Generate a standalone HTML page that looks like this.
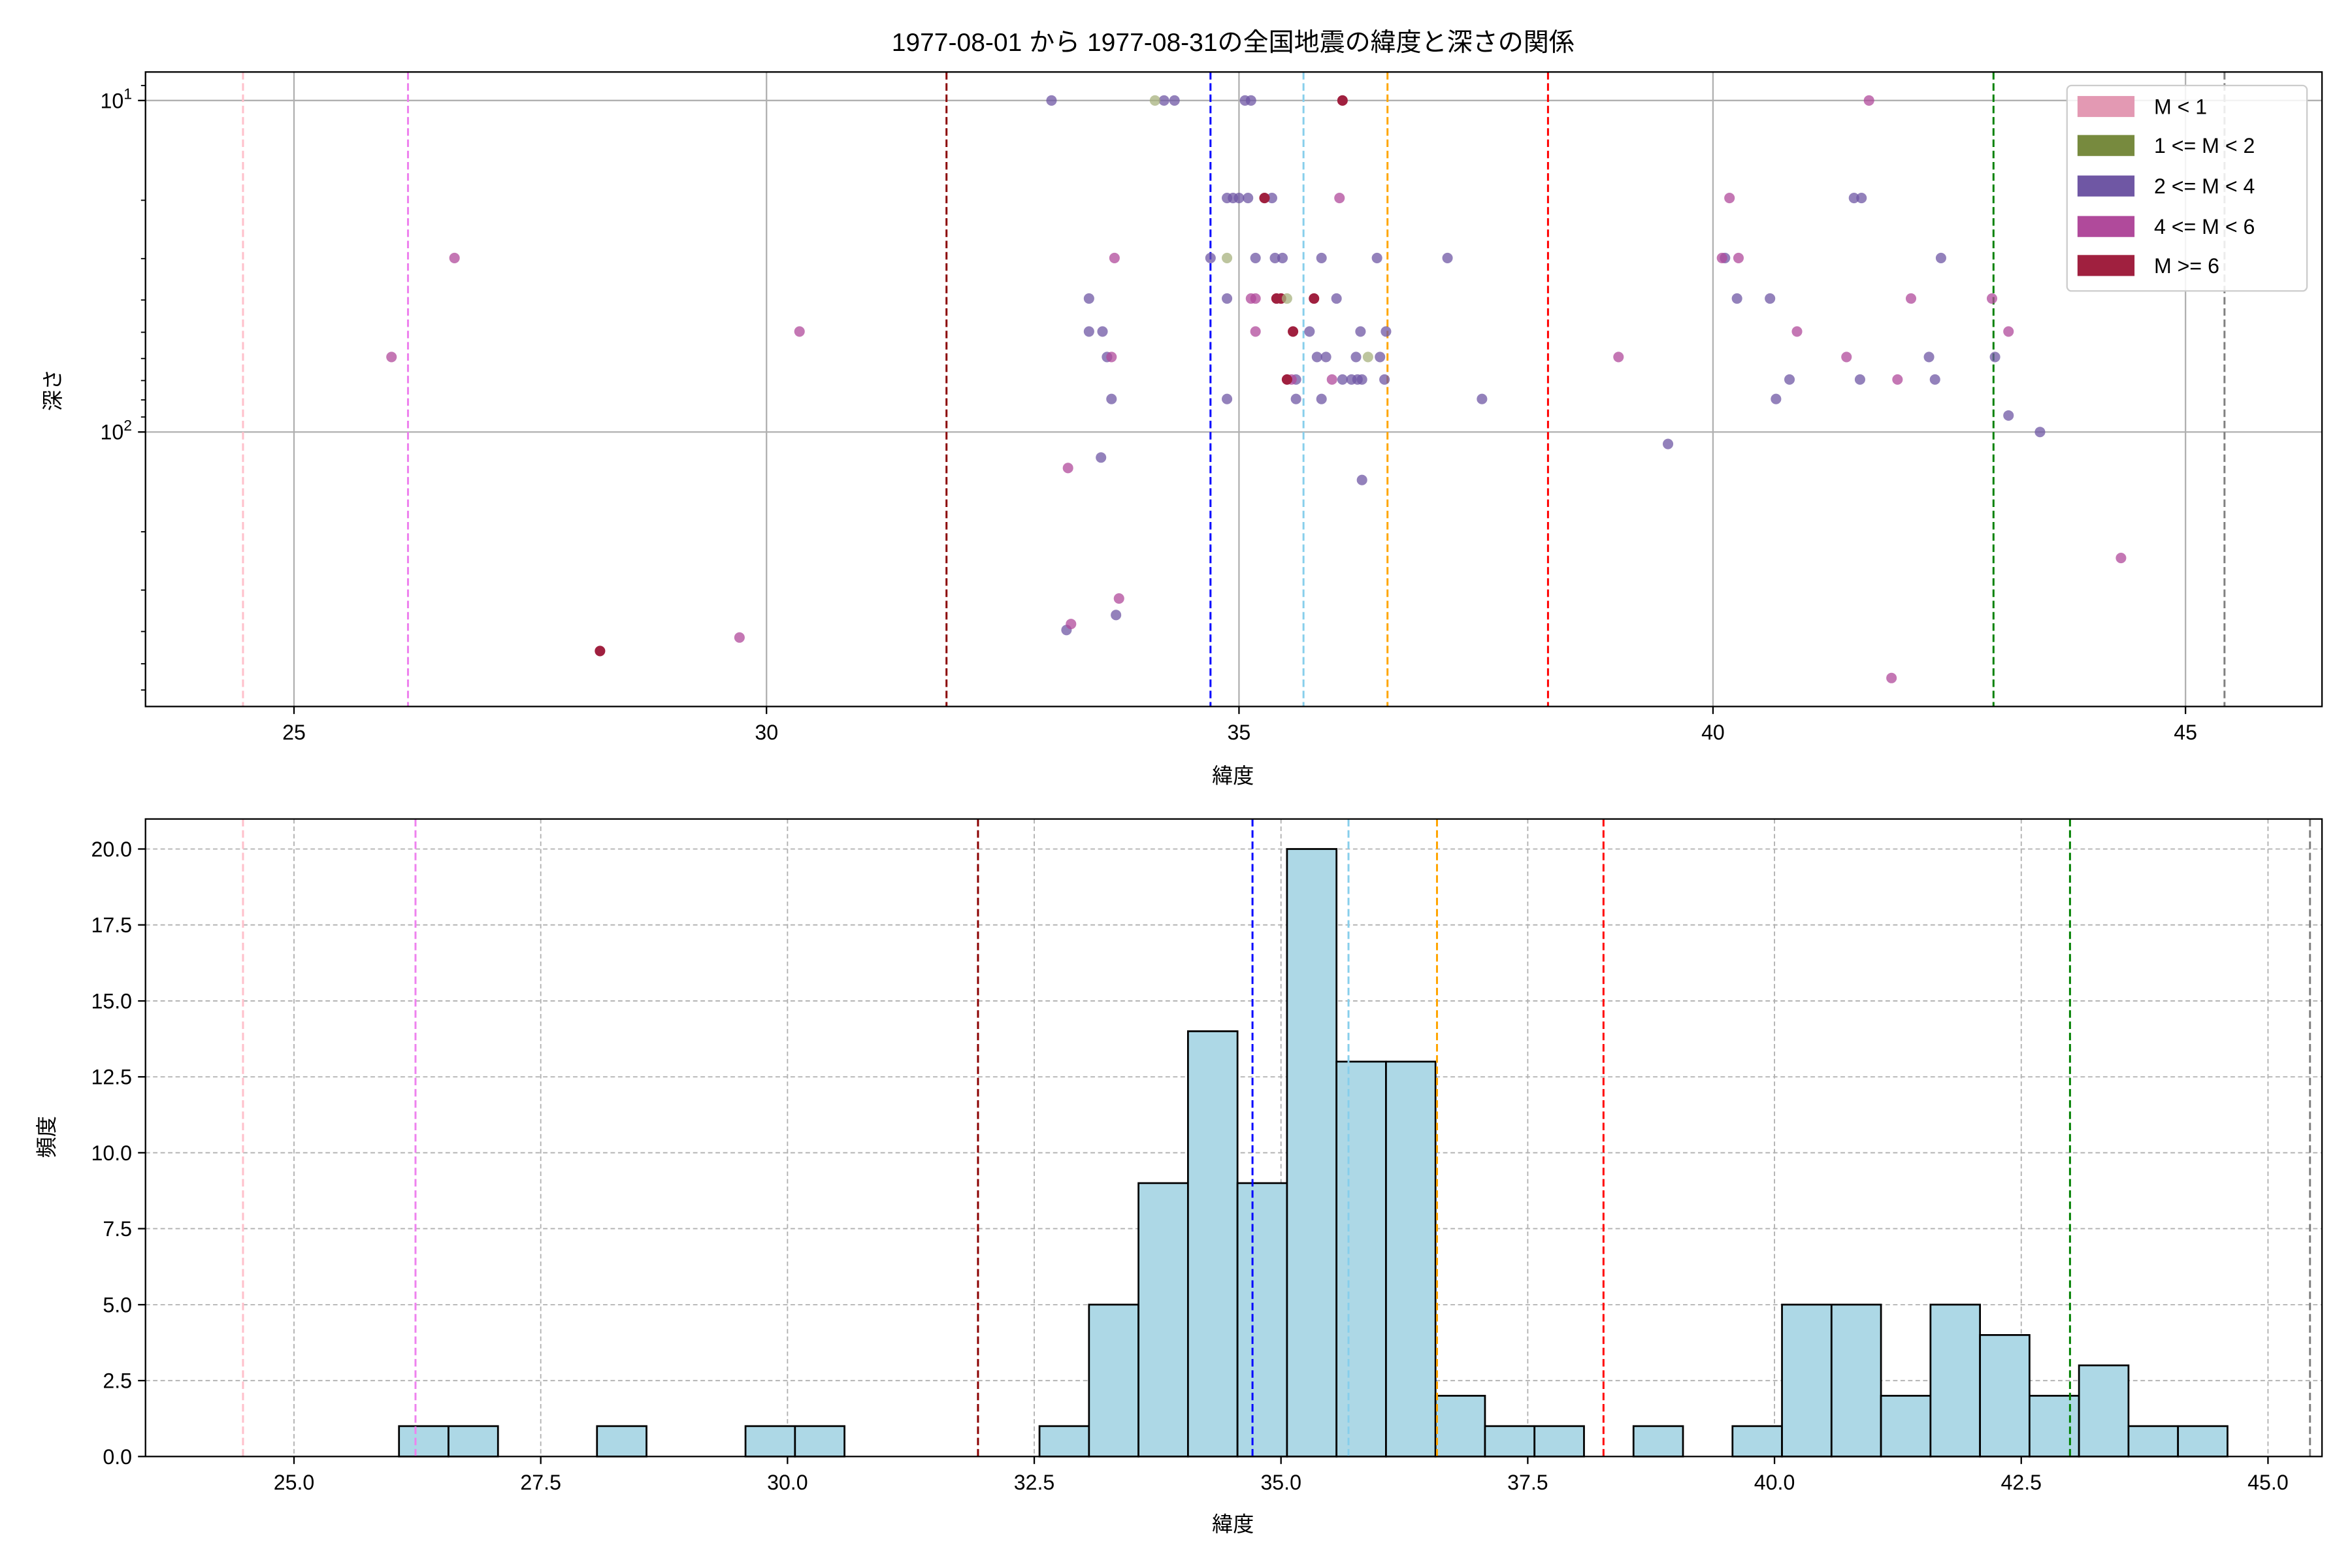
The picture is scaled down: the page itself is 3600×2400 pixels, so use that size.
<!DOCTYPE html>
<html><head><meta charset="utf-8"><style>
html,body{margin:0;padding:0;background:#fff}
svg{display:block}
text{font-family:"Liberation Sans","Noto Sans CJK JP",sans-serif;fill:#000}
</style></head><body>
<svg width="3600" height="2400" viewBox="0 0 1568 1045.33" xmlns="http://www.w3.org/2000/svg">
<rect width="1568" height="1046" fill="#fff"/>
<text x="822" y="34" font-size="17" text-anchor="middle">1977-08-01 から 1977-08-31の全国地震の緯度と深さの関係</text>
<!-- TOP -->
<g stroke="#b0b0b0" stroke-width="1">
<line x1="196" y1="48" x2="196" y2="471"/><line x1="511" y1="48" x2="511" y2="471"/><line x1="826" y1="48" x2="826" y2="471"/><line x1="1142" y1="48" x2="1142" y2="471"/><line x1="1457" y1="48" x2="1457" y2="471"/>
<line x1="97" y1="67" x2="1548" y2="67"/><line x1="97" y1="288" x2="1548" y2="288"/>
</g>
<g stroke-width="1.3" stroke-dasharray="5,2.5">
<line x1="162" y1="48" x2="162" y2="471" stroke="pink"/>
<line x1="272" y1="48" x2="272" y2="471" stroke="violet"/>
<line x1="631" y1="48" x2="631" y2="471" stroke="darkred"/>
<line x1="807" y1="48" x2="807" y2="471" stroke="blue"/>
<line x1="869" y1="48" x2="869" y2="471" stroke="skyblue"/>
<line x1="925" y1="48" x2="925" y2="471" stroke="orange"/>
<line x1="1032" y1="48" x2="1032" y2="471" stroke="red"/>
<line x1="1329" y1="48" x2="1329" y2="471" stroke="green"/>
<line x1="1483" y1="48" x2="1483" y2="471" stroke="gray"/>
</g>
<g fill-opacity="0.75">
<g fill="#6f57a4">
<circle cx="701" cy="67" r="3.5"/><circle cx="776" cy="67" r="3.5"/><circle cx="783" cy="67" r="3.5"/><circle cx="830" cy="67" r="3.5"/><circle cx="834" cy="67" r="3.5"/>
<circle cx="818" cy="132" r="3.5"/><circle cx="822" cy="132" r="3.5"/><circle cx="826" cy="132" r="3.5"/><circle cx="832" cy="132" r="3.5"/><circle cx="848" cy="132" r="3.5"/><circle cx="1236" cy="132" r="3.5"/><circle cx="1241" cy="132" r="3.5"/>
<circle cx="807" cy="172" r="3.5"/><circle cx="837" cy="172" r="3.5"/><circle cx="850" cy="172" r="3.5"/><circle cx="855" cy="172" r="3.5"/><circle cx="881" cy="172" r="3.5"/><circle cx="918" cy="172" r="3.5"/><circle cx="965" cy="172" r="3.5"/><circle cx="1150" cy="172" r="3.5"/><circle cx="1294" cy="172" r="3.5"/>
<circle cx="726" cy="199" r="3.5"/><circle cx="818" cy="199" r="3.5"/><circle cx="891" cy="199" r="3.5"/><circle cx="1158" cy="199" r="3.5"/><circle cx="1180" cy="199" r="3.5"/>
<circle cx="726" cy="221" r="3.5"/><circle cx="735" cy="221" r="3.5"/><circle cx="873" cy="221" r="3.5"/><circle cx="907" cy="221" r="3.5"/><circle cx="924" cy="221" r="3.5"/>
<circle cx="738" cy="238" r="3.5"/><circle cx="878" cy="238" r="3.5"/><circle cx="884" cy="238" r="3.5"/><circle cx="904" cy="238" r="3.5"/><circle cx="920" cy="238" r="3.5"/><circle cx="1286" cy="238" r="3.5"/><circle cx="1330" cy="238" r="3.5"/>
<circle cx="864" cy="253" r="3.5"/><circle cx="895" cy="253" r="3.5"/><circle cx="901" cy="253" r="3.5"/><circle cx="905" cy="253" r="3.5"/><circle cx="908" cy="253" r="3.5"/><circle cx="923" cy="253" r="3.5"/><circle cx="1193" cy="253" r="3.5"/><circle cx="1240" cy="253" r="3.5"/><circle cx="1290" cy="253" r="3.5"/>
<circle cx="741" cy="266" r="3.5"/><circle cx="818" cy="266" r="3.5"/><circle cx="864" cy="266" r="3.5"/><circle cx="881" cy="266" r="3.5"/><circle cx="988" cy="266" r="3.5"/><circle cx="1184" cy="266" r="3.5"/>
<circle cx="1339" cy="277" r="3.5"/><circle cx="1360" cy="288" r="3.5"/><circle cx="1112" cy="296" r="3.5"/><circle cx="734" cy="305" r="3.5"/><circle cx="908" cy="320" r="3.5"/><circle cx="744" cy="410" r="3.5"/><circle cx="711" cy="420" r="3.5"/>
</g>
<g fill="#b04a9b">
<circle cx="1246" cy="67" r="3.5"/><circle cx="893" cy="132" r="3.5"/><circle cx="1153" cy="132" r="3.5"/>
<circle cx="303" cy="172" r="3.5"/><circle cx="743" cy="172" r="3.5"/><circle cx="1148" cy="172" r="3.5"/><circle cx="1159" cy="172" r="3.5"/>
<circle cx="834" cy="199" r="3.5"/><circle cx="837" cy="199" r="3.5"/><circle cx="1274" cy="199" r="3.5"/><circle cx="1328" cy="199" r="3.5"/>
<circle cx="533" cy="221" r="3.5"/><circle cx="837" cy="221" r="3.5"/><circle cx="1198" cy="221" r="3.5"/><circle cx="1339" cy="221" r="3.5"/>
<circle cx="261" cy="238" r="3.5"/><circle cx="741" cy="238" r="3.5"/><circle cx="1079" cy="238" r="3.5"/><circle cx="1231" cy="238" r="3.5"/>
<circle cx="861" cy="253" r="3.5"/><circle cx="888" cy="253" r="3.5"/><circle cx="1265" cy="253" r="3.5"/>
<circle cx="712" cy="312" r="3.5"/><circle cx="1414" cy="372" r="3.5"/><circle cx="746" cy="399" r="3.5"/><circle cx="714" cy="416" r="3.5"/><circle cx="493" cy="425" r="3.5"/><circle cx="1261" cy="452" r="3.5"/>
</g>
<g fill="#a0203f" fill-opacity="1">
<circle cx="895" cy="67" r="3.5"/><circle cx="843" cy="132" r="3.5"/><circle cx="851" cy="199" r="3.5"/><circle cx="854" cy="199" r="3.5"/><circle cx="876" cy="199" r="3.5"/><circle cx="862" cy="221" r="3.5"/><circle cx="858" cy="253" r="3.5"/><circle cx="400" cy="434" r="3.5"/>
</g>
<g fill="#a7b27e">
<circle cx="770" cy="67" r="3.5"/><circle cx="818" cy="172" r="3.5"/><circle cx="858" cy="199" r="3.5"/><circle cx="912" cy="238" r="3.5"/>
</g>
</g>
<rect x="97" y="48" width="1451" height="423" fill="none" stroke="#000" stroke-width="1"/>
<g stroke="#000" stroke-width="1">
<line x1="196" y1="471" x2="196" y2="476"/><line x1="511" y1="471" x2="511" y2="476"/><line x1="826" y1="471" x2="826" y2="476"/><line x1="1142" y1="471" x2="1142" y2="476"/><line x1="1457" y1="471" x2="1457" y2="476"/>
<line x1="92" y1="67" x2="97" y2="67"/><line x1="92" y1="288" x2="97" y2="288"/>
<g stroke-width="0.8"><line x1="94" y1="57" x2="97" y2="57"/><line x1="94" y1="133.5" x2="97" y2="133.5"/><line x1="94" y1="172.4" x2="97" y2="172.4"/><line x1="94" y1="200" x2="97" y2="200"/><line x1="94" y1="221.5" x2="97" y2="221.5"/><line x1="94" y1="239" x2="97" y2="239"/><line x1="94" y1="253.7" x2="97" y2="253.7"/><line x1="94" y1="266.6" x2="97" y2="266.6"/><line x1="94" y1="278" x2="97" y2="278"/><line x1="94" y1="354.5" x2="97" y2="354.5"/><line x1="94" y1="393.4" x2="97" y2="393.4"/><line x1="94" y1="421" x2="97" y2="421"/><line x1="94" y1="442.5" x2="97" y2="442.5"/><line x1="94" y1="460" x2="97" y2="460"/></g>
</g>
<g font-size="14" text-anchor="middle">
<text x="196" y="493">25</text><text x="511" y="493">30</text><text x="826" y="493">35</text><text x="1142" y="493">40</text><text x="1457" y="493">45</text>
</g>
<text x="88" y="72" font-size="14" text-anchor="end">10<tspan dy="-6" font-size="10">1</tspan></text>
<text x="88" y="293" font-size="14" text-anchor="end">10<tspan dy="-6" font-size="10">2</tspan></text>
<text x="822" y="522" font-size="14" text-anchor="middle">緯度</text>
<text transform="translate(40,260) rotate(-90)" font-size="14" text-anchor="middle">深さ</text>
<!-- legend -->
<rect x="1378" y="57" width="160" height="137" rx="3" fill="#fff" fill-opacity="0.85" stroke="#ccc"/>
<rect x="1385" y="64" width="38" height="14" fill="#e399b3"/><text x="1436" y="76" font-size="14">M &lt; 1</text>
<rect x="1385" y="90" width="38" height="14" fill="#778a3e"/><text x="1436" y="102" font-size="14">1 &lt;= M &lt; 2</text>
<rect x="1385" y="117" width="38" height="14" fill="#6f57a4"/><text x="1436" y="129" font-size="14">2 &lt;= M &lt; 4</text>
<rect x="1385" y="144" width="38" height="14" fill="#b04a9b"/><text x="1436" y="156" font-size="14">4 &lt;= M &lt; 6</text>
<rect x="1385" y="170" width="38" height="14" fill="#a0203f"/><text x="1436" y="182" font-size="14">M &gt;= 6</text>
<!-- BOTTOM -->
<g stroke="#b0b0b0" stroke-width="0.8" stroke-dasharray="3,2">
<line x1="196" y1="546" x2="196" y2="971"/><line x1="360.5" y1="546" x2="360.5" y2="971"/><line x1="525" y1="546" x2="525" y2="971"/><line x1="689.5" y1="546" x2="689.5" y2="971"/><line x1="854" y1="546" x2="854" y2="971"/><line x1="1018.5" y1="546" x2="1018.5" y2="971"/><line x1="1183" y1="546" x2="1183" y2="971"/><line x1="1347.5" y1="546" x2="1347.5" y2="971"/><line x1="1512" y1="546" x2="1512" y2="971"/>
<line x1="97" y1="920.4" x2="1548" y2="920.4"/><line x1="97" y1="869.8" x2="1548" y2="869.8"/><line x1="97" y1="819.1" x2="1548" y2="819.1"/><line x1="97" y1="768.5" x2="1548" y2="768.5"/><line x1="97" y1="717.9" x2="1548" y2="717.9"/><line x1="97" y1="667.3" x2="1548" y2="667.3"/><line x1="97" y1="616.6" x2="1548" y2="616.6"/><line x1="97" y1="566" x2="1548" y2="566"/>
</g>
<g fill="#add8e6" stroke="#000" stroke-width="1.2">
<rect x="266" y="950.75" width="33" height="20.25"/><rect x="299" y="950.75" width="33" height="20.25"/>
<rect x="398" y="950.75" width="33" height="20.25"/>
<rect x="497" y="950.75" width="33" height="20.25"/><rect x="530" y="950.75" width="33" height="20.25"/>
<rect x="693" y="950.75" width="33" height="20.25"/>
<rect x="726" y="869.75" width="33" height="101.25"/>
<rect x="759" y="788.75" width="33" height="182.25"/>
<rect x="792" y="687.5" width="33" height="283.5"/>
<rect x="825" y="788.75" width="33" height="182.25"/>
<rect x="858" y="566" width="33" height="405"/>
<rect x="891" y="707.75" width="33" height="263.25"/>
<rect x="924" y="707.75" width="33" height="263.25"/>
<rect x="957" y="930.5" width="33" height="40.5"/>
<rect x="990" y="950.75" width="33" height="20.25"/><rect x="1023" y="950.75" width="33" height="20.25"/>
<rect x="1089" y="950.75" width="33" height="20.25"/>
<rect x="1155" y="950.75" width="33" height="20.25"/>
<rect x="1188" y="869.75" width="33" height="101.25"/><rect x="1221" y="869.75" width="33" height="101.25"/>
<rect x="1254" y="930.5" width="33" height="40.5"/>
<rect x="1287" y="869.75" width="33" height="101.25"/>
<rect x="1320" y="890" width="33" height="81"/>
<rect x="1353" y="930.5" width="33" height="40.5"/>
<rect x="1386" y="910.25" width="33" height="60.75"/>
<rect x="1419" y="950.75" width="33" height="20.25"/><rect x="1452" y="950.75" width="33" height="20.25"/>
</g>
<g stroke-width="1.3" stroke-dasharray="5,2.5">
<line x1="162" y1="546" x2="162" y2="971" stroke="pink"/>
<line x1="277" y1="546" x2="277" y2="971" stroke="violet"/>
<line x1="652" y1="546" x2="652" y2="971" stroke="darkred"/>
<line x1="835" y1="546" x2="835" y2="971" stroke="blue"/>
<line x1="899" y1="546" x2="899" y2="971" stroke="skyblue"/>
<line x1="958" y1="546" x2="958" y2="971" stroke="orange"/>
<line x1="1069" y1="546" x2="1069" y2="971" stroke="red"/>
<line x1="1380" y1="546" x2="1380" y2="971" stroke="green"/>
<line x1="1540" y1="546" x2="1540" y2="971" stroke="gray"/>
</g>
<rect x="97" y="546" width="1451" height="425" fill="none" stroke="#000" stroke-width="1"/>
<g stroke="#000" stroke-width="1">
<line x1="196" y1="971" x2="196" y2="976"/><line x1="360.5" y1="971" x2="360.5" y2="976"/><line x1="525" y1="971" x2="525" y2="976"/><line x1="689.5" y1="971" x2="689.5" y2="976"/><line x1="854" y1="971" x2="854" y2="976"/><line x1="1018.5" y1="971" x2="1018.5" y2="976"/><line x1="1183" y1="971" x2="1183" y2="976"/><line x1="1347.5" y1="971" x2="1347.5" y2="976"/><line x1="1512" y1="971" x2="1512" y2="976"/>
<line x1="92" y1="971" x2="97" y2="971"/><line x1="92" y1="920.4" x2="97" y2="920.4"/><line x1="92" y1="869.8" x2="97" y2="869.8"/><line x1="92" y1="819.1" x2="97" y2="819.1"/><line x1="92" y1="768.5" x2="97" y2="768.5"/><line x1="92" y1="717.9" x2="97" y2="717.9"/><line x1="92" y1="667.3" x2="97" y2="667.3"/><line x1="92" y1="616.6" x2="97" y2="616.6"/><line x1="92" y1="566" x2="97" y2="566"/>
</g>
<g font-size="14" text-anchor="middle">
<text x="196" y="993">25.0</text><text x="360.5" y="993">27.5</text><text x="525" y="993">30.0</text><text x="689.5" y="993">32.5</text><text x="854" y="993">35.0</text><text x="1018.5" y="993">37.5</text><text x="1183" y="993">40.0</text><text x="1347.5" y="993">42.5</text><text x="1512" y="993">45.0</text>
</g>
<g font-size="14" text-anchor="end">
<text x="88" y="976">0.0</text><text x="88" y="925.4">2.5</text><text x="88" y="874.8">5.0</text><text x="88" y="824.1">7.5</text><text x="88" y="773.5">10.0</text><text x="88" y="722.9">12.5</text><text x="88" y="672.3">15.0</text><text x="88" y="621.6">17.5</text><text x="88" y="571">20.0</text>
</g>
<text x="822" y="1021" font-size="14" text-anchor="middle">緯度</text>
<text transform="translate(36,758) rotate(-90)" font-size="14" text-anchor="middle">頻度</text>
</svg>
</body></html>
